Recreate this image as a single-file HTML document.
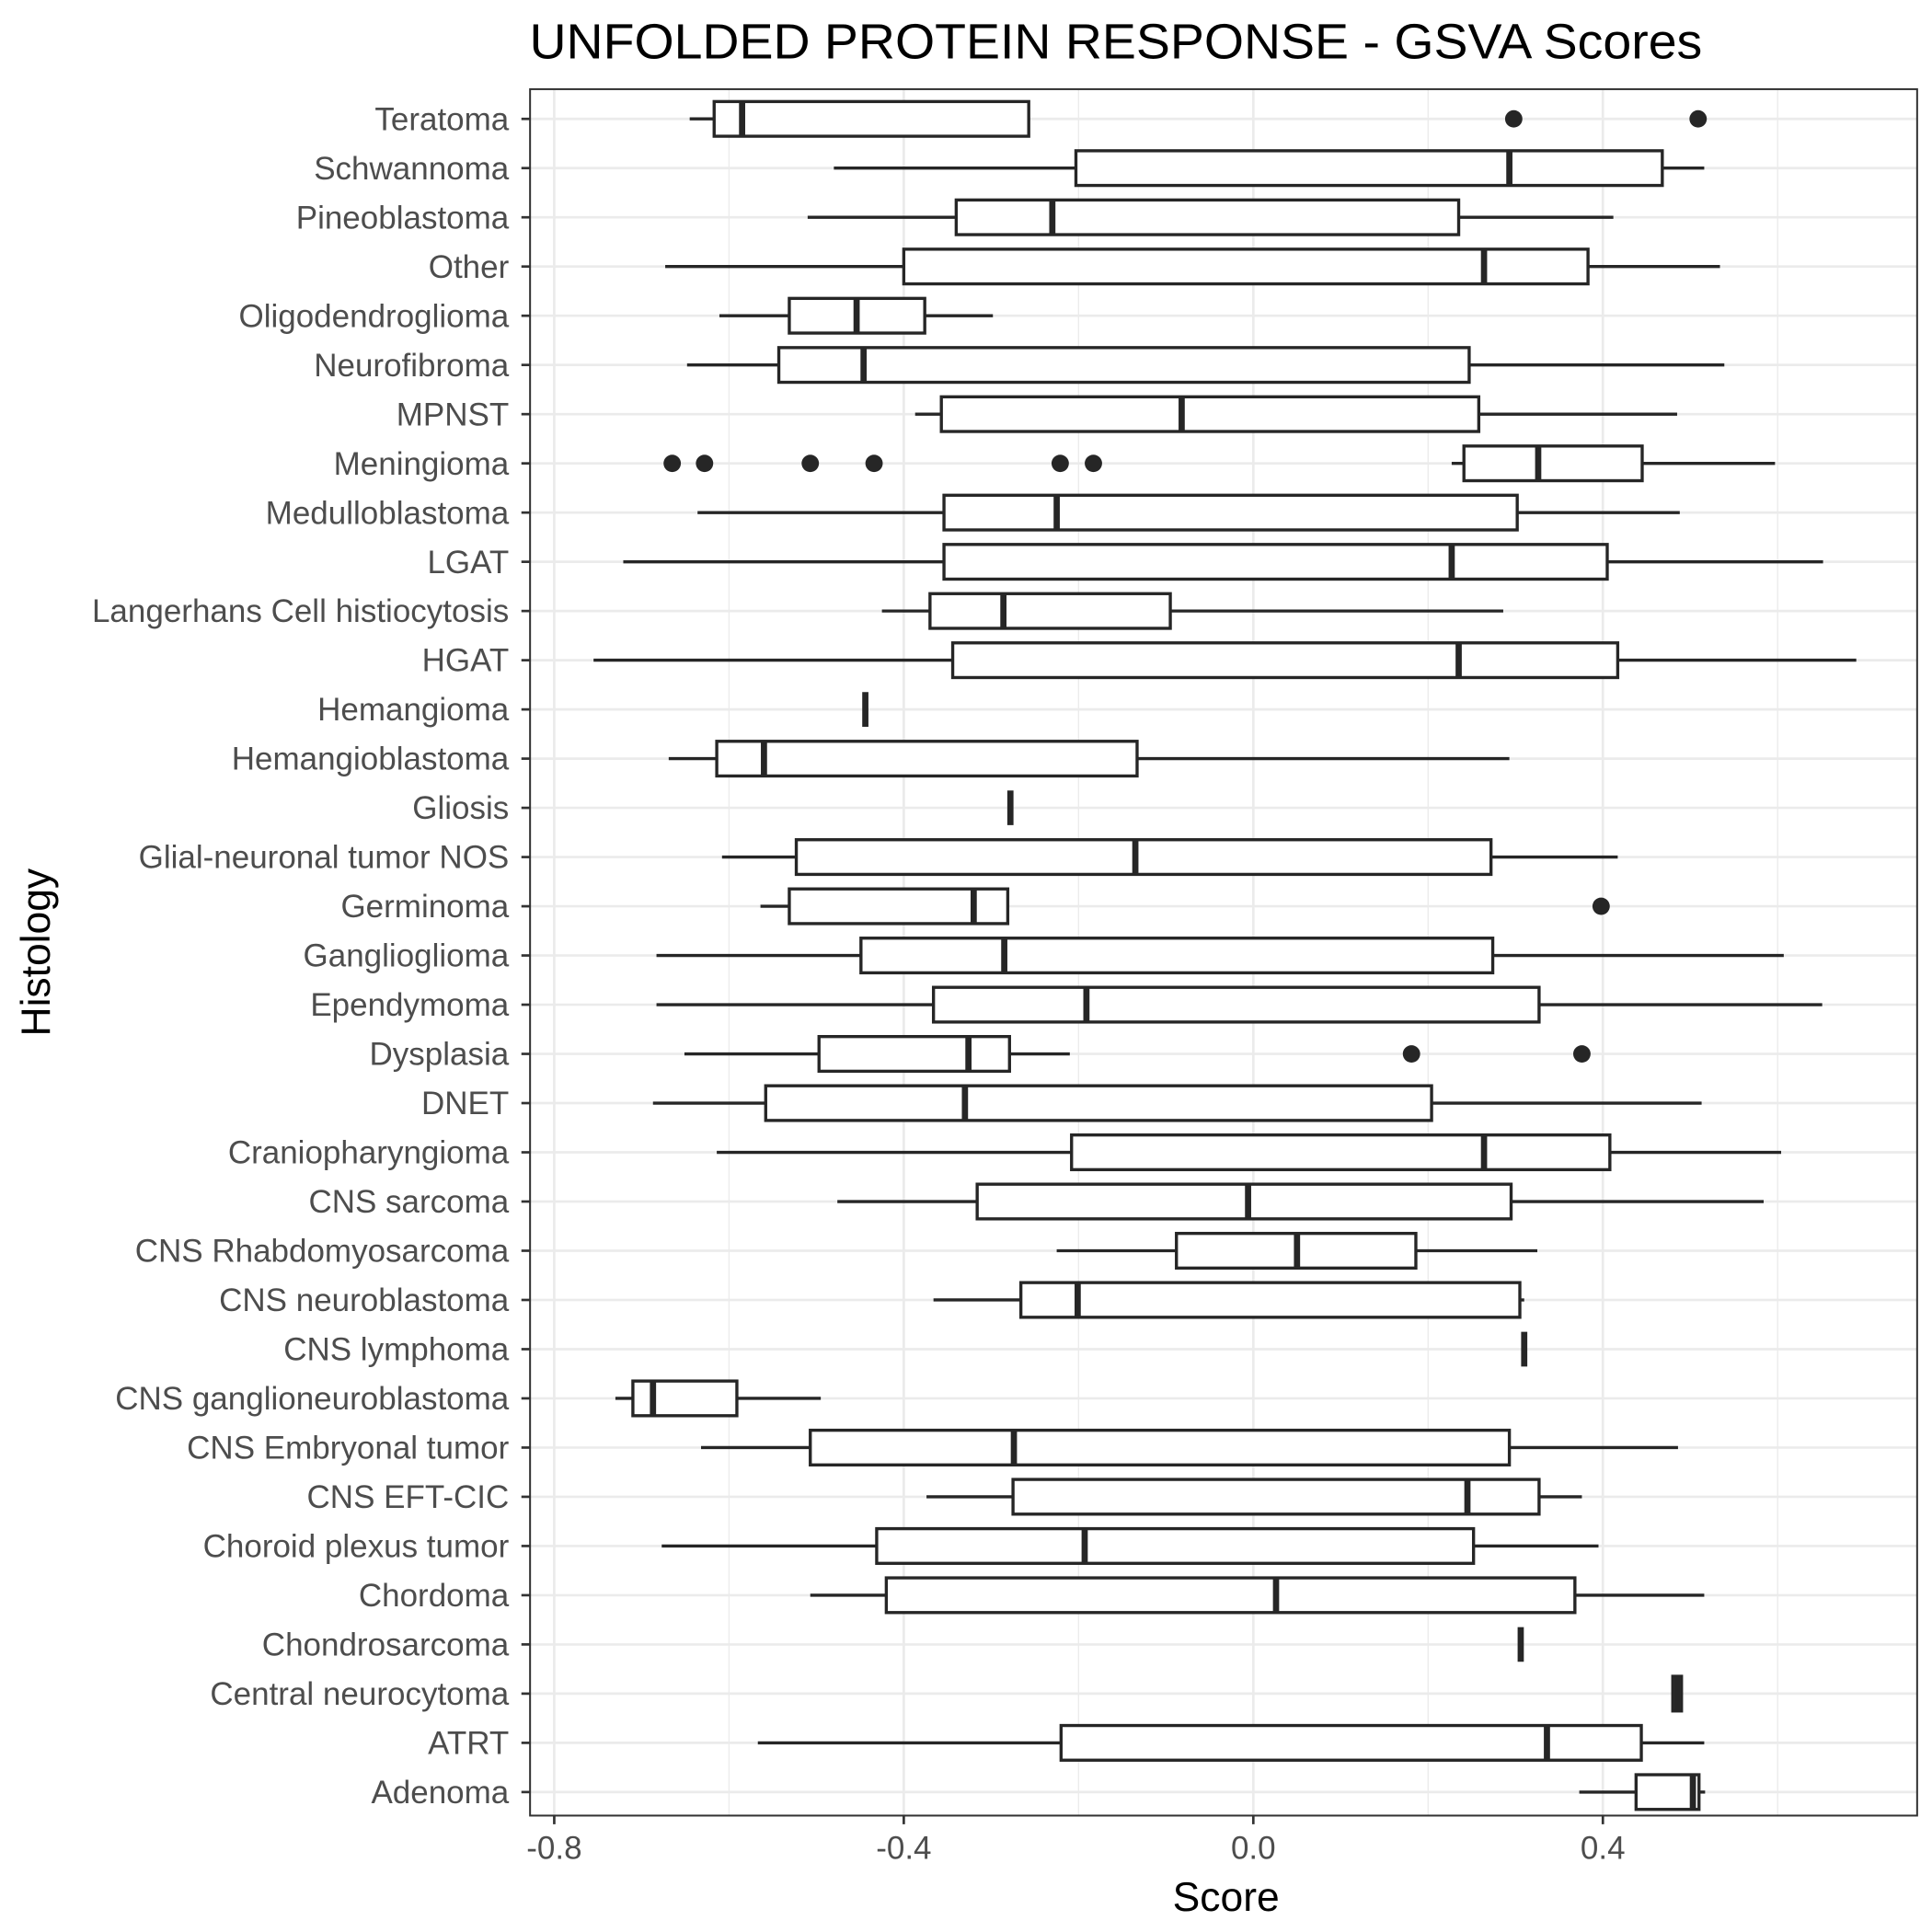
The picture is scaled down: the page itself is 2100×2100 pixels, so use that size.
<!DOCTYPE html>
<html><head><meta charset="utf-8"><style>html,body{margin:0;padding:0;background:#fff}svg{display:block}</style></head>
<body>
<svg id="chart" width="2100" height="2100" viewBox="0 0 1560 1560" xmlns="http://www.w3.org/2000/svg" font-family="Liberation Sans, sans-serif">
<text x="901" y="47" font-size="40" text-anchor="middle" fill="#000" textLength="947" lengthAdjust="spacingAndGlyphs">UNFOLDED PROTEIN RESPONSE - GSVA Scores</text>
<text x="990" y="1543" font-size="33" text-anchor="middle" fill="#000">Score</text>
<text transform="translate(40,769) rotate(-90)" font-size="33" text-anchor="middle" fill="#000">Histology</text>
<g id="grid"></g><g id="marks"></g><g id="axes"></g>
</svg>
<script>
const categories=["Teratoma","Schwannoma","Pineoblastoma","Other","Oligodendroglioma","Neurofibroma","MPNST","Meningioma","Medulloblastoma","LGAT","Langerhans Cell histiocytosis","HGAT","Hemangioma","Hemangioblastoma","Gliosis","Glial-neuronal tumor NOS","Germinoma","Ganglioglioma","Ependymoma","Dysplasia","DNET","Craniopharyngioma","CNS sarcoma","CNS Rhabdomyosarcoma","CNS neuroblastoma","CNS lymphoma","CNS ganglioneuroblastoma","CNS Embryonal tumor","CNS EFT-CIC","Choroid plexus tumor","Chordoma","Chondrosarcoma","Central neurocytoma","ATRT","Adenoma"];
const whiskerLow=[-0.645,-0.480,-0.510,-0.673,-0.611,-0.648,-0.387,0.227,-0.636,-0.721,-0.425,-0.755,-0.444,-0.669,-0.278,-0.608,-0.564,-0.683,-0.683,-0.651,-0.687,-0.614,-0.476,-0.225,-0.366,0.310,-0.730,-0.632,-0.374,-0.677,-0.507,0.306,0.480,-0.567,0.373];
const q1=[-0.617,-0.203,-0.340,-0.400,-0.531,-0.543,-0.357,0.241,-0.354,-0.354,-0.370,-0.344,-0.444,-0.614,-0.278,-0.523,-0.531,-0.449,-0.366,-0.497,-0.558,-0.208,-0.316,-0.088,-0.266,0.310,-0.710,-0.507,-0.275,-0.431,-0.420,0.306,0.480,-0.220,0.438];
const median=[-0.585,0.293,-0.230,0.264,-0.454,-0.446,-0.082,0.326,-0.225,0.227,-0.286,0.235,-0.444,-0.560,-0.278,-0.135,-0.320,-0.285,-0.191,-0.326,-0.330,0.264,-0.006,0.050,-0.201,0.310,-0.687,-0.274,0.245,-0.193,0.026,0.306,0.485,0.336,0.503];
const q3=[-0.257,0.468,0.235,0.383,-0.376,0.247,0.258,0.445,0.302,0.405,-0.095,0.417,-0.444,-0.133,-0.278,0.272,-0.281,0.274,0.327,-0.279,0.204,0.408,0.295,0.186,0.305,0.310,-0.591,0.293,0.327,0.252,0.368,0.306,0.490,0.444,0.510];
const whiskerHigh=[-0.257,0.516,0.412,0.534,-0.298,0.539,0.485,0.597,0.488,0.652,0.286,0.690,-0.444,0.293,-0.278,0.417,-0.281,0.607,0.651,-0.210,0.513,0.604,0.584,0.325,0.310,0.310,-0.495,0.486,0.376,0.395,0.516,0.306,0.490,0.516,0.517];
const outlierCats=["Teratoma","Teratoma","Meningioma","Meningioma","Meningioma","Meningioma","Meningioma","Meningioma","Germinoma","Dysplasia","Dysplasia"];
const outlierVals=[0.298,0.509,-0.665,-0.628,-0.507,-0.434,-0.221,-0.183,0.398,0.181,0.376];
const xTicks=[-0.8,-0.4,0.0,0.4];
const xTickLabels=["-0.8","-0.4","0.0","0.4"];
const xMinor=[-0.6,-0.2,0.2,0.6];

const L=428,R=1548,T=72,B=1466;
const X=v=>1012+705.6*v;
const Y=i=>96+i*(1447-96)/(categories.length-1);
const NS="http://www.w3.org/2000/svg";
function mk(tag,attrs,parent){const e=document.createElementNS(NS,tag);for(const k in attrs)e.setAttribute(k,attrs[k]);parent.appendChild(e);return e;}
const grid=document.getElementById('grid'),marks=document.getElementById('marks'),axes=document.getElementById('axes');
mk('rect',{x:L,y:T,width:R-L,height:B-T,fill:'#fff'},grid);
xMinor.forEach(v=>{const e=mk('line',{x1:X(v),x2:X(v),y1:T,y2:B,stroke:'#ebebeb','stroke-width':1},grid);

});
xTicks.forEach(v=>{const e=mk('line',{x1:X(v),x2:X(v),y1:T,y2:B,stroke:'#ebebeb','stroke-width':2},grid);

});
categories.forEach((c,i)=>{const e=mk('line',{x1:L,x2:R,y1:Y(i),y2:Y(i),stroke:'#ebebeb','stroke-width':2},grid);

});
const C='#262626';
categories.forEach((c,i)=>{
 const g=mk('g',{},marks);
 
 
 const y=Y(i),h=14;
 mk('line',{x1:X(whiskerLow[i]),x2:X(q1[i]),y1:y,y2:y,stroke:C,'stroke-width':2.5},g);
 mk('line',{x1:X(q3[i]),x2:X(whiskerHigh[i]),y1:y,y2:y,stroke:C,'stroke-width':2.5},g);
 mk('rect',{x:X(q1[i]),y:y-h,width:Math.max(0,X(q3[i])-X(q1[i])),height:2*h,fill:'#fff',stroke:C,'stroke-width':2.5},g);
 mk('line',{x1:X(median[i]),x2:X(median[i]),y1:y-h,y2:y+h,stroke:C,'stroke-width':5},g);
 const lab=mk('text',{x:L-17,y:y+9,'font-size':26,'text-anchor':'end',fill:'#4d4d4d'},axes);
 lab.textContent=c;
 
 
 mk('line',{x1:L-7,x2:L,y1:y,y2:y,stroke:'#333','stroke-width':2},axes);
});
outlierVals.forEach((v,k)=>{const i=categories.indexOf(outlierCats[k]);
 const e=mk('circle',{cx:X(v),cy:Y(i),r:7,fill:C},marks);
 
 });
mk('rect',{x:L,y:T,width:R-L,height:B-T,fill:'none',stroke:'#333','stroke-width':1.5},axes);
xTicks.forEach((v,k)=>{mk('line',{x1:X(v),x2:X(v),y1:B,y2:B+7,stroke:'#333','stroke-width':2},axes);
 const t=mk('text',{x:X(v),y:B+35,'font-size':26,'text-anchor':'middle',fill:'#4d4d4d'},axes);
 t.textContent=xTickLabels[k];
 
 });
</script>
</body></html>
